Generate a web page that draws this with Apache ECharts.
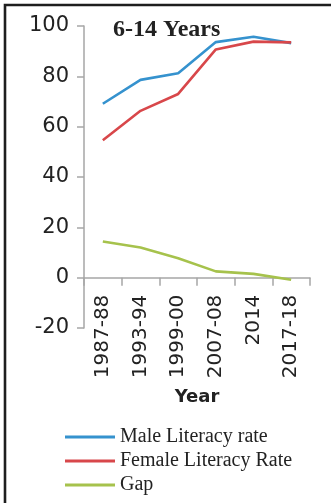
<!DOCTYPE html>
<html>
<head>
<meta charset="utf-8">
<script src="https://cdn.jsdelivr.net/npm/echarts@6/dist/echarts.min.js"></script>
<style>
  html, body { margin: 0; padding: 0; background: #fff; }
  #chart { width: 331px; height: 503px; }
</style>
</head>
<body>
<div id="chart"></div>
<script>
// Literacy rates for the 6-14 age group by survey round
const years = ['1987-88', '1993-94', '1999-00', '2007-08', '2014', '2017-18'];
const maleRate = [69.1, 78.6, 81.2, 93.6, 95.7, 93.2];
const femaleRate = [54.6, 66.3, 73.0, 90.7, 93.8, 93.5];
const gap = [14.4, 12.0, 7.7, 2.5, 1.5, -0.8];
const yTicks = { min: -20, max: 100, step: 20 };

const axisFont = 'DejaVu Sans';
const serifFont = '"Liberation Serif", "Times New Roman", serif';
const seriesColors = ['#3592CE', '#D8474A', '#A6C24C'];

const gridTop = 26;
const gridBottom = 175;
const chartHeight = 503;
// The category axis sits on the zero line: shift it up from the grid bottom
// by the pixel distance between the y minimum and zero.
const plotHeight = chartHeight - gridTop - gridBottom;
const zeroOffset = plotHeight * (0 - yTicks.min) / (yTicks.max - yTicks.min);

const chart = echarts.init(document.getElementById('chart'), null, { renderer: 'canvas' });

function lineSeries(name, data, color) {
  return {
    name: name,
    type: 'line',
    data: data,
    showSymbol: false,
    symbol: 'none',
    lineStyle: { color: color, width: 2.6 },
    itemStyle: { color: color },
    emphasis: { disabled: true }
  };
}

chart.setOption({
  animation: false,
  color: seriesColors,
  title: {
    text: '6-14 Years',
    left: 108,
    top: 13,
    textStyle: { fontFamily: serifFont, fontWeight: 'bold', fontSize: 24, color: '#222' }
  },
  grid: { left: 84, right: 21, top: gridTop, bottom: gridBottom, containLabel: false },
  xAxis: {
    type: 'category',
    data: years,
    boundaryGap: true,
    position: 'bottom',
    offset: -zeroOffset,
    axisLine: { onZero: false, lineStyle: { color: '#A6A6A6', width: 1.5 } },
    axisTick: { show: true, length: 8, alignWithLabel: false, lineStyle: { color: '#A6A6A6', width: 1.5 } },
    axisLabel: {
      rotate: 90,
      margin: 17,
      interval: 0,
      fontFamily: axisFont,
      fontSize: 20,
      color: '#222'
    },
    name: 'Year',
    nameLocation: 'middle',
    nameGap: 111,
    nameTextStyle: { fontFamily: axisFont, fontWeight: 'bold', fontSize: 18, color: '#222' },
    splitLine: { show: false }
  },
  yAxis: {
    type: 'value',
    min: yTicks.min,
    max: yTicks.max,
    interval: yTicks.step,
    axisLine: { show: true, lineStyle: { color: '#A6A6A6', width: 1.5 } },
    axisTick: { show: true, length: 7, lineStyle: { color: '#A6A6A6', width: 1.5 } },
    axisLabel: { fontFamily: axisFont, fontSize: 21, color: '#222', margin: 15 },
    splitLine: { show: false }
  },
  legend: {
    orient: 'vertical',
    left: 60,
    top: 422,
    itemWidth: 50,
    itemHeight: 3,
    itemGap: 4,
    icon: 'rect',
    selectedMode: false,
    textStyle: { fontFamily: serifFont, fontSize: 20, color: '#222' },
    data: ['Male Literacy rate', 'Female Literacy Rate', 'Gap']
  },
  series: [
    lineSeries('Male Literacy rate', maleRate, seriesColors[0]),
    lineSeries('Female Literacy Rate', femaleRate, seriesColors[1]),
    lineSeries('Gap', gap, seriesColors[2])
  ],
  graphic: [
    {
      type: 'polyline',
      silent: true,
      shape: { points: [[5, 503], [5, 5], [331, 5]] },
      style: { stroke: '#1E1E1E', lineWidth: 2.6, fill: null }
    }
  ]
});
</script>
</body>
</html>
